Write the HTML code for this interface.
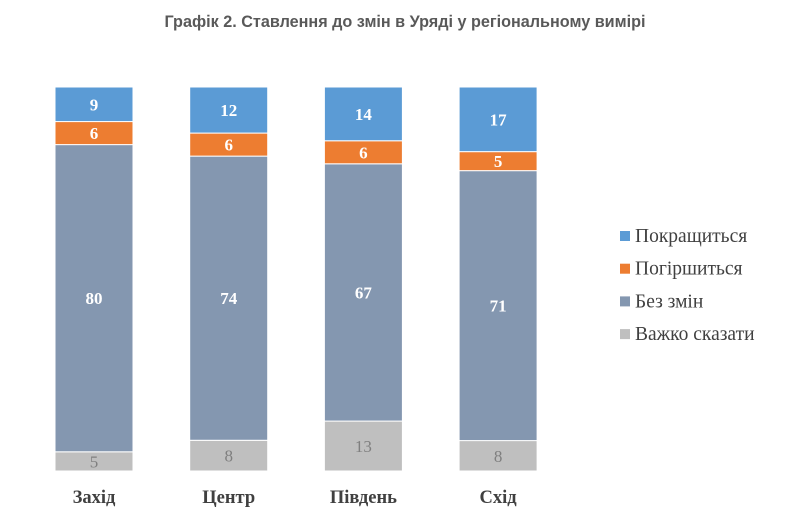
<!DOCTYPE html>
<html><head><meta charset="utf-8"><style>
body{margin:0;background:#fff;}
svg{display:block;}
</style></head><body>
<svg id="chart" width="807" height="531">
<text x="405" y="27" text-anchor="middle" font-family="Liberation Sans, sans-serif" font-weight="bold" font-size="16.2" fill="#595959">Графік 2. Ставлення до змін в Уряді у регіональному вимірі</text>
<g id="bars"></g>
<g id="legend"></g>
</svg>
<script>
const categories = ["Захід","Центр","Південь","Схід"];
const seriesNames = ["Важко сказати","Без змін","Погіршиться","Покращиться"];
const hard = [5,8,13,8];
const same = [80,74,67,71];
const worse = [6,6,6,5];
const better = [9,12,14,17];
const series = [hard, same, worse, better];
const colors = ["#bfbfbf","#8497b0","#ed7d31","#5b9bd5"];
const labelColors = ["#7f7f7f","#fff","#fff","#fff"];
const ns = "http://www.w3.org/2000/svg";
const y0 = 471, y1 = 87;
function yScale(frac){ return y0 - frac*(y0-y1); }
function xScale(i){ return 55 + i*134.7; }
const bw = 78;
const g = document.getElementById('bars');
categories.forEach((c,i)=>{
  let acc = 0;
  let total = 0;
  series.forEach(s=>{ total += s[i]; });
  series.forEach((s,k)=>{
    const v = s[i];
    const top = yScale((acc+v)/total), bot = yScale(acc/total);
    const r = document.createElementNS(ns,'rect');
    r.setAttribute('x', xScale(i)); r.setAttribute('y', top);
    r.setAttribute('width', bw); r.setAttribute('height', bot-top);
    r.setAttribute('fill', colors[k]); r.setAttribute('stroke','#fff'); r.setAttribute('stroke-width','1');
    
    
    g.appendChild(r);
    const t = document.createElementNS(ns,'text');
    t.setAttribute('x', xScale(i)+bw/2); t.setAttribute('y', (top+bot)/2+6);
    t.setAttribute('text-anchor','middle');
    t.setAttribute('font-family','Liberation Serif, serif');
    t.setAttribute('font-size','17');
    if(k>0) t.setAttribute('font-weight','bold');
    t.setAttribute('fill', labelColors[k]);
    t.textContent = v;
    
    
    g.appendChild(t);
    acc += v;
  });
  const ct = document.createElementNS(ns,'text');
  ct.setAttribute('x', xScale(i)+bw/2); ct.setAttribute('y', 503);
  ct.setAttribute('text-anchor','middle');
  ct.setAttribute('font-family','Liberation Serif, serif');
  ct.setAttribute('font-size','18.5'); ct.setAttribute('font-weight','bold');
  ct.setAttribute('fill','#404040');
  ct.textContent = c;
  
  
  g.appendChild(ct);
});
const lg = document.getElementById('legend');
const legendOrder = [3,2,1,0];
legendOrder.forEach((k,j)=>{
  const y = 236 + j*32.7;
  const r = document.createElementNS(ns,'rect');
  r.setAttribute('x',620); r.setAttribute('y',y-5); r.setAttribute('width',10); r.setAttribute('height',10);
  r.setAttribute('fill',colors[k]);
  
  
  lg.appendChild(r);
  const t = document.createElementNS(ns,'text');
  t.setAttribute('x',635); t.setAttribute('y',y+6);
  t.setAttribute('font-family','Liberation Serif, serif'); t.setAttribute('font-size','19.5');
  t.setAttribute('fill','#404040');
  t.textContent = seriesNames[k];
  
  
  lg.appendChild(t);
});
</script>
</body></html>
